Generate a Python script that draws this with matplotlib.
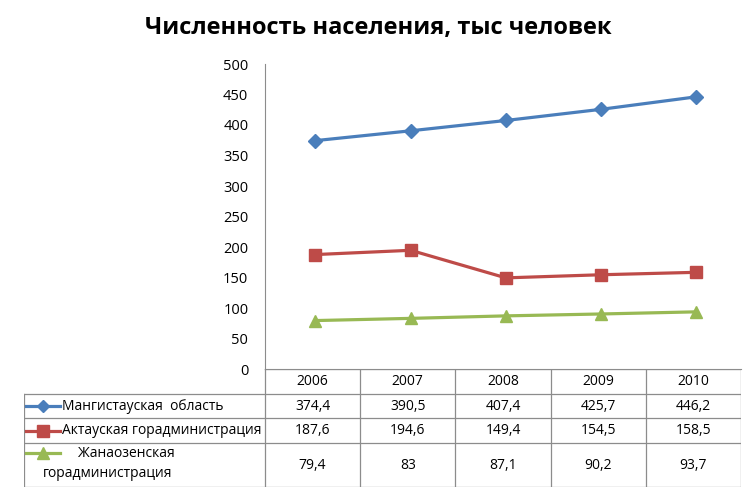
import numpy as np
import matplotlib.pyplot as plt
from matplotlib.lines import Line2D

plt.rcParams['font.family'] = ['Open Sans', 'DejaVu Sans']

years = ['2006', '2007', '2008', '2009', '2010']
mangistau = [374.4, 390.5, 407.4, 425.7, 446.2]
aktau = [187.6, 194.6, 149.4, 154.5, 158.5]
zhanaozen = [79.4, 83, 87.1, 90.2, 93.7]
labels_mangistau = ['374,4', '390,5', '407,4', '425,7', '446,2']
labels_aktau = ['187,6', '194,6', '149,4', '154,5', '158,5']
labels_zhanaozen = ['79,4', '83', '87,1', '90,2', '93,7']

names = ['Мангистауская  область', 'Актауская горадминистрация',
         'Жанаозенская горадминистрация']
series = [mangistau, aktau, zhanaozen]
cell_text = [labels_mangistau, labels_aktau, labels_zhanaozen]
colors = ['#4a7ebb', '#be4b48', '#98b954']
markers = ['D', 's', '^']
msizes = [7, 9, 9]
grid_col = '#8c8c8c'

W, H = 754, 494
fig = plt.figure(figsize=(W / 100, H / 100), dpi=100)

# main plot area (pixel layout)
px_left, px_right, px_top, px_bottom = 265, 741, 64, 369
ax = fig.add_axes([px_left / W, 1 - px_bottom / H,
                   (px_right - px_left) / W, (px_bottom - px_top) / H])
x = np.arange(len(years))
for vals, c, m, ms in zip(series, colors, markers, msizes):
    ax.plot(x + 0.03, vals, color=c, lw=2.3, marker=m, ms=ms, mec=c, mfc=c)
ax.set_xlim(-0.5, len(years) - 0.5)
ax.set_ylim(0, 500)
ax.set_yticks(np.arange(0, 501, 50))
ax.set_xticks([])
ax.tick_params(axis='y', length=0, labelsize=10.5, pad=12)
for s in ['top', 'right']:
    ax.spines[s].set_visible(False)
ax.spines['left'].set_color(grid_col)
ax.spines['bottom'].set_color(grid_col)

fig.text(378 / W, 1 - 28 / H, 'Численность населения, тыс человек',
         ha='center', va='center', fontsize=17, fontweight='bold')

# data table under the plot
tb_left, tb_bottom = 24, 487
row_edges = [369, 394, 418, 443, 487]
tax = fig.add_axes([tb_left / W, 1 - tb_bottom / H,
                    (px_right - tb_left) / W, (tb_bottom - 369) / H])
unit = (px_right - px_left) / len(years)
lab_w = (px_left - tb_left) / unit
tax.set_xlim(-0.5 - lab_w, len(years) - 0.5)
tax.set_ylim(tb_bottom, 369)
tax.axis('off')

xl = -0.5 - lab_w
xr = len(years) - 0.5
lw = 0.9
# horizontal lines
tax.plot([-0.5, xr], [row_edges[0]] * 2, color=grid_col, lw=lw)
for yy in row_edges[1:]:
    tax.plot([xl, xr], [yy, yy], color=grid_col, lw=lw)
# vertical lines
for i in range(len(years) + 1):
    tax.plot([i - 0.5] * 2, [row_edges[0], tb_bottom], color=grid_col, lw=lw)
tax.plot([xl, xl], [row_edges[1], tb_bottom], color=grid_col, lw=lw)

mid = lambda r: (row_edges[r] + row_edges[r + 1]) / 2
for i, yr in enumerate(years):
    tax.text(i, mid(0), yr, ha='center', va='center', fontsize=10)
for r, (txt, c, m, ms) in enumerate(zip(cell_text, colors, markers, msizes)):
    ym = mid(r + 1)
    for i, t in enumerate(txt):
        tax.text(i, ym, t, ha='center', va='center', fontsize=10)
    # legend key
    k0 = xl + 2 / unit
    k1 = xl + 36 / unit
    yk = ym if r < 2 else row_edges[3] + 10
    tax.add_line(Line2D([k0, k1], [yk, yk], color=c, lw=2.3))
    tax.plot([(k0 + k1) / 2], [yk], marker=m, ms=ms - 1, color=c)

tax.text(xl + 38 / unit, mid(1), names[0], ha='left', va='center', fontsize=10)
tax.text(xl + 38 / unit, mid(2), names[1], ha='left', va='center', fontsize=10)
tax.text(xl + 54 / unit, row_edges[3] + 10, 'Жанаозенская', ha='left',
         va='center', fontsize=10)
tax.text(xl + 19 / unit, row_edges[3] + 30, 'горадминистрация', ha='left',
         va='center', fontsize=10)

fig.savefig('out.png', dpi=100)
